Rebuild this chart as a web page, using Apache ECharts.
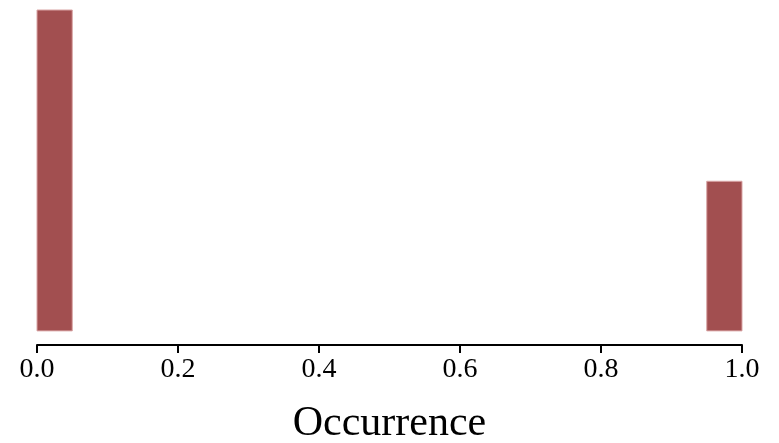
<!DOCTYPE html>
<html>
<head>
<meta charset="utf-8">
<style>
  html, body { margin: 0; padding: 0; background: #fff; }
  #chart { width: 779px; height: 443px; }
</style>
<script src="https://cdn.jsdelivr.net/npm/echarts@6/dist/echarts.min.js"></script>
</head>
<body>
<div id="chart"></div>
<script>
// Histogram of occurrence values: 20 bins of width 0.05 over [0, 1]
const binStarts = [0.00, 0.05, 0.10, 0.15, 0.20, 0.25, 0.30, 0.35, 0.40, 0.45,
                   0.50, 0.55, 0.60, 0.65, 0.70, 0.75, 0.80, 0.85, 0.90, 0.95];
const binWidth = 0.05;
const binCounts = [682, 0, 0, 0, 0, 0, 0, 0, 0, 0,
                   0, 0, 0, 0, 0, 0, 0, 0, 0, 318];
const xTicks = [0.0, 0.2, 0.4, 0.6, 0.8, 1.0];

const data = binStarts.map((s, i) => [s, s + binWidth, binCounts[i]]);

const chart = echarts.init(document.getElementById('chart'), null, { renderer: 'canvas' });
const serif = "'Liberation Serif', 'Times New Roman', serif";

// the x axis sits a little below the bars: leave a small gap under zero
const yMax = Math.max(...binCounts);
const yGap = 30;

chart.setOption({
  animation: false,
  grid: { left: 37, right: 37, top: 10, bottom: 98, containLabel: false, outerBoundsMode: 'none' },
  xAxis: {
    type: 'value',
    min: 0,
    max: 1,
    interval: 0.2,
    name: 'Occurrence',
    nameLocation: 'middle',
    nameGap: 58,
    nameTextStyle: { fontFamily: serif, fontSize: 42, color: '#000' },
    axisLine: { show: true, onZero: false, lineStyle: { color: '#000', width: 2 } },
    axisTick: { show: true, inside: false, length: 8, lineStyle: { color: '#000', width: 2 } },
    axisLabel: {
      fontFamily: serif, fontSize: 28, color: '#000', margin: 11,
      formatter: v => v.toFixed(1)
    },
    splitLine: { show: false }
  },
  yAxis: {
    type: 'value',
    min: -yGap,
    max: yMax,
    show: false,
    splitLine: { show: false }
  },
  series: [{
    type: 'custom',
    data: data,
    encode: { x: [0, 1], y: 2 },
    renderItem: function (params, api) {
      const count = api.value(2);
      if (!count) return null;
      const p0 = api.coord([api.value(0), 0]);
      const p1 = api.coord([api.value(1), count]);
      return {
        type: 'rect',
        shape: { x: p0[0], y: p1[1], width: p1[0] - p0[0], height: p0[1] - p1[1] },
        style: { fill: '#a24f50', stroke: '#d9a5a5', lineWidth: 1 }
      };
    }
  }]
});
</script>
</body>
</html>
